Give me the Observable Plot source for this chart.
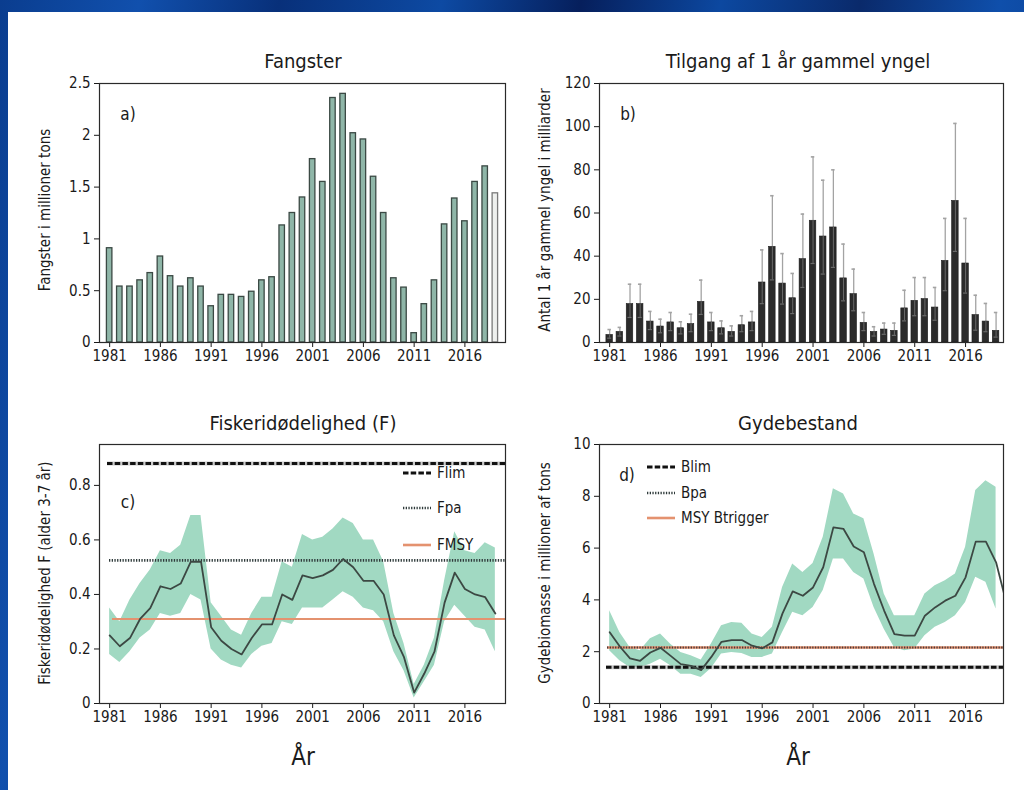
<!DOCTYPE html>
<html>
<head>
<meta charset="utf-8">
<script src="https://cdn.jsdelivr.net/npm/d3@7"></script>
<script src="https://cdn.jsdelivr.net/npm/@observablehq/plot@0.6"></script>
<style>
  html, body { margin:0; padding:0; }
  body {
    width:1024px; height:790px; overflow:hidden;
    background: linear-gradient(100deg, #0a3d8f 0%, #1150ad 12%, #08307a 24%, #0d4aa3 38%, #061f5c 50%, #0c48a0 62%, #0a2a6b 74%, #0f4fab 86%, #0a3a8a 100%);
    font-family: "Liberation Sans Narrow", "DejaVu Sans Condensed", "Roboto", sans-serif;
  }
  #root { position:absolute; left:8px; top:12px; right:0; bottom:0; background:#fff; }
  #canvas { position:absolute; left:0; top:0; width:1024px; height:790px; }
  .title { position:absolute; transform:translate(-50%,-50%); font-size:20px; color:#1a1a1a; white-space:nowrap; }
  .xlab { position:absolute; transform:translate(-50%,-50%); font-size:24px; color:#1a1a1a; }
  .ylab { position:absolute; transform:translate(-50%,-50%) rotate(-90deg); font-size:15px; color:#1a1a1a; white-space:nowrap; }
  .tag { position:absolute; transform:translate(-50%,-50%); font-size:17px; color:#1a1a1a; }
  .leg { position:absolute; display:flex; align-items:center; font-size:15px; color:#1a1a1a; white-space:nowrap; transform:translateY(-50%); }
  .leg svg { margin-right:6px; }
</style>
</head>
<body>
<div id="root"></div>
<div id="canvas"></div>
<script>
// ---------- data ----------
const years = d3.range(1981, 2020);
const xTickYears = [1981, 1986, 1991, 1996, 2001, 2006, 2011, 2016];

// a) Fangster (million tons); last year provisional
const catchValues = [0.91,0.54,0.54,0.60,0.67,0.83,0.64,0.54,0.62,0.54,
                     0.35,0.46,0.46,0.44,0.49,0.60,0.63,1.13,1.25,1.40,
                     1.77,1.55,2.36,2.40,2.02,1.96,1.60,1.25,0.62,0.53,
                     0.09,0.37,0.60,1.14,1.39,1.17,1.55,1.70,1.44];
const provisionalCatchYear = 2019;

// b) Recruitment (billions) with interval
const recruit = [3.5,4.9,17.8,17.8,9.7,7.4,9.3,6.6,8.5,18.8,
                 9.3,6.6,4.9,8.0,9.3,27.8,44.3,27.3,20.5,38.6,
                 56.4,49.1,53.3,29.7,22.4,9.1,4.9,6.0,5.4,15.8,
                 19.3,20.1,16.2,37.8,65.6,36.6,12.7,9.7,5.4];
const recruitHigh = [6,7,27,27,14.4,10.8,13.9,9.6,13.1,28.9,
                     13.9,10,7.7,12.4,14.4,42.9,68,41.2,32,59.5,
                     86,75.2,80,45.6,34,13.9,7.3,9,9,24.2,
                     30.1,30.1,25.5,57.5,101.5,57.5,21.9,18.1,13.9];
const recruitLow = [2,3,11.6,11.6,6,4.5,5.5,4,5,13,
                    5.5,4,3,5,5.5,18,29,17.8,13.4,25.5,
                    36.6,31.7,34.8,19.3,14.7,5.5,3,3.8,3.3,10,
                    12.4,12.4,10.3,24,42.2,22.9,5.7,5,2.5];

// c) Fishing mortality F (ages 3-7)
const fValues = [0.25,0.21,0.24,0.31,0.35,0.43,0.42,0.44,0.52,0.52,
                 0.28,0.23,0.20,0.18,0.24,0.29,0.29,0.40,0.38,0.47,
                 0.46,0.47,0.49,0.53,0.50,0.45,0.45,0.40,0.25,0.17,
                 0.04,0.11,0.19,0.37,0.48,0.42,0.40,0.39,0.33];
const fHigh = [0.35,0.30,0.38,0.44,0.49,0.56,0.55,0.58,0.69,0.69,
               0.37,0.32,0.27,0.25,0.33,0.39,0.39,0.52,0.50,0.62,
               0.60,0.61,0.64,0.68,0.66,0.60,0.60,0.52,0.33,0.22,
               0.07,0.14,0.24,0.45,0.63,0.56,0.55,0.59,0.57];
const fLow = [0.18,0.15,0.19,0.24,0.27,0.33,0.32,0.33,0.40,0.38,
              0.20,0.16,0.14,0.13,0.18,0.21,0.22,0.30,0.29,0.35,
              0.35,0.35,0.38,0.41,0.39,0.35,0.34,0.30,0.19,0.12,
              0.02,0.08,0.14,0.30,0.36,0.32,0.28,0.27,0.19];
const Flim = 0.88, Fpa = 0.525, FMSY = 0.31;

// d) Spawning stock biomass (million tons)
const ssbYears = d3.range(1981, 2021);
const ssb = [2.75,2.2,1.74,1.65,1.97,2.15,1.84,1.52,1.45,1.29,
             1.8,2.38,2.45,2.45,2.23,2.13,2.36,3.48,4.33,4.16,
             4.48,5.26,6.8,6.74,6.06,5.84,4.61,3.58,2.68,2.62,
             2.62,3.39,3.71,3.97,4.16,4.87,6.25,6.25,5.45,3.9];
const ssbHigh = [3.58,2.74,2.16,2.04,2.5,2.68,2.29,1.97,1.84,1.68,
                 2.3,3.0,3.13,3.1,2.68,2.55,2.94,4.48,5.39,5.06,
                 5.41,6.42,8.29,8.09,7.32,7.13,5.77,4.23,3.39,3.39,
                 3.39,4.23,4.55,4.74,5.0,6.03,8.22,8.6,8.35];
const ssbLow = [2.04,1.65,1.39,1.39,1.52,1.71,1.46,1.13,1.13,1.0,
                1.35,1.91,1.97,1.93,1.78,1.78,1.91,2.74,3.52,3.39,
                3.71,4.36,5.58,5.58,5.06,4.81,3.71,2.87,2.16,2.04,
                2.1,2.62,2.94,3.13,3.39,3.9,4.87,4.68,3.65];
const Blim = 1.4, Bpa = 2.16, MSYBtrigger = 2.16;

// ---------- tables ----------
const catchData = years.map((year, i) => ({year, value: catchValues[i]}));
const recruitData = years.map((year, i) => ({year, value: recruit[i], lo: recruitLow[i], hi: recruitHigh[i]}));
const fData = years.map((year, i) => ({year, value: fValues[i], lo: fLow[i], hi: fHigh[i]}));
const ssbBand = years.map((year, i) => ({year, lo: ssbLow[i], hi: ssbHigh[i]}));
const ssbLine = ssbYears.map((year, i) => ({year, value: ssb[i]}));

// ---------- styles ----------
const FONT = '"Liberation Sans Narrow", "DejaVu Sans Condensed", Roboto, sans-serif';
const baseStyle = {fontFamily: FONT, fontSize: "15px", color: "#1a1a1a", background: "transparent", overflow: "visible"};
const bandFill = "#a1d9c2";
const lineCol = "#3c4843";
const orange = "#e4926f";
const canvas = document.getElementById("canvas");

function place(node, left, top) {
  node.style.position = "absolute";
  node.style.left = left + "px";
  node.style.top = top + "px";
  canvas.appendChild(node);
}
function xAxisOpts(domain) {
  return {domain, ticks: xTickYears, tickFormat: d => String(d), tickSize: 5, tickPadding: 3, label: null};
}
const numFmt = d => String(+d.toFixed(2));

// a) Fangster
place(Plot.plot({
  width: 500, height: 300, marginLeft: 79, marginRight: 15, marginTop: 11, marginBottom: 30,
  style: baseStyle,
  x: xAxisOpts([1980, 2020]),
  y: {domain: [0, 2.5], ticks: [0, 0.5, 1, 1.5, 2, 2.5], tickFormat: numFmt, tickSize: 5, tickPadding: 4, label: null},
  marks: [
    Plot.rectY(catchData, {
      x1: d => d.year - 0.27, x2: d => d.year + 0.27, y: "value",
      fill: d => d.year === provisionalCatchYear ? "#eef0ee" : "#8fb6a8",
      stroke: d => d.year === provisionalCatchYear ? "#7a7a7a" : "#3b4944",
      strokeWidth: 1.3
    }),
    Plot.frame({stroke: "#2a2a2a", strokeWidth: 1.2})
  ]
}), 20, 72);

// b) Recruitment
place(Plot.plot({
  width: 510, height: 300, marginLeft: 89, marginRight: 17, marginTop: 11, marginBottom: 30,
  style: baseStyle,
  x: xAxisOpts([1980, 2019.73]),
  y: {domain: [0, 120], ticks: [0, 20, 40, 60, 80, 100, 120], tickSize: 5, tickPadding: 4, label: null},
  marks: [
    Plot.ruleX(recruitData, {x: "year", y1: "value", y2: "hi", stroke: "#a3a3a3", strokeWidth: 1.3}),
    Plot.ruleY(recruitData, {y: "hi", x1: d => d.year - 0.17, x2: d => d.year + 0.17, stroke: "#a3a3a3", strokeWidth: 1.6}),
    Plot.rectY(recruitData, {x1: d => d.year - 0.32, x2: d => d.year + 0.32, y: "value", fill: "#2b2b2b", stroke: "#1c1c1c", strokeWidth: 0.6}),
    Plot.ruleX(recruitData, {x: "year", y1: "lo", y2: "value", stroke: "#6a6a6a", strokeWidth: 1}),
    Plot.ruleY(recruitData, {y: "lo", x1: d => d.year - 0.2, x2: d => d.year + 0.2, stroke: "#6a6a6a", strokeWidth: 1.2}),
    Plot.frame({stroke: "#2a2a2a", strokeWidth: 1.2})
  ]
}), 510, 72);

// c) Fishing mortality
place(Plot.plot({
  width: 500, height: 300, marginLeft: 79, marginRight: 15, marginTop: 10, marginBottom: 31,
  style: baseStyle,
  x: xAxisOpts([1980, 2020]),
  y: {domain: [0, 0.95], ticks: [0, 0.2, 0.4, 0.6, 0.8], tickFormat: numFmt, tickSize: 5, tickPadding: 4, label: null},
  marks: [
    Plot.areaY(fData, {x: "year", y1: "lo", y2: "hi", fill: bandFill, fillOpacity: 1}),
    Plot.ruleY([FMSY], {stroke: orange, strokeWidth: 2.2, insetLeft: 13}),
    Plot.ruleY([Fpa], {stroke: "#2f3b3b", strokeWidth: 2.6, strokeDasharray: "1.3,1.4", insetLeft: 10}),
    Plot.ruleY([Flim], {stroke: "#9a9a9a", strokeWidth: 4, insetLeft: 8, strokeOpacity: 0.5}),
    Plot.ruleY([Flim], {stroke: "#111", strokeWidth: 3, strokeDasharray: "5.5,2.2", insetLeft: 8}),
    Plot.lineY(fData, {x: "year", y: "value", stroke: lineCol, strokeWidth: 1.8}),
    Plot.frame({stroke: "#2a2a2a", strokeWidth: 1.2})
  ]
}), 20, 434);

// d) SSB
place(Plot.plot({
  width: 510, height: 300, marginLeft: 89, marginRight: 17, marginTop: 10, marginBottom: 31,
  style: baseStyle,
  x: xAxisOpts([1980, 2019.73]),
  y: {domain: [0, 10], ticks: [0, 2, 4, 6, 8, 10], tickSize: 5, tickPadding: 4, label: null},
  marks: [
    Plot.areaY(ssbBand, {x: "year", y1: "lo", y2: "hi", fill: bandFill}),
    Plot.ruleY([MSYBtrigger], {stroke: orange, strokeWidth: 2.6, insetLeft: 8}),
    Plot.ruleY([Bpa], {stroke: "#4a3a3a", strokeWidth: 2, strokeDasharray: "1.3,1.4", insetLeft: 8}),
    Plot.ruleY([Blim], {stroke: "#9a9a9a", strokeWidth: 4, insetLeft: 7, strokeOpacity: 0.5}),
    Plot.ruleY([Blim], {stroke: "#111", strokeWidth: 3, strokeDasharray: "5.5,2.2", insetLeft: 7}),
    Plot.lineY(ssbLine, {x: "year", y: "value", stroke: lineCol, strokeWidth: 1.8, clip: true}),
    Plot.frame({stroke: "#2a2a2a", strokeWidth: 1.2})
  ]
}), 510, 434);

// ---------- text ----------
function addDiv(cls, text, x, y) {
  const d = document.createElement("div");
  d.className = cls; d.textContent = text;
  d.style.left = x + "px"; d.style.top = y + "px";
  canvas.appendChild(d);
  return d;
}
addDiv("title", "Fangster", 303, 61);
addDiv("title", "Tilgang af 1 år gammel yngel", 798, 61);
addDiv("title", "Fiskeridødelighed (F)", 303, 423);
addDiv("title", "Gydebestand", 798, 423);
addDiv("xlab", "År", 303, 757);
addDiv("xlab", "År", 798, 757);
addDiv("ylab", "Fangster i millioner tons", 45, 210);
addDiv("ylab", "Antal 1 år gammel yngel i milliarder", 545, 210);
addDiv("ylab", "Fiskeridødelighed F (alder 3-7 år)", 45, 573);
addDiv("ylab", "Gydebiomasse i millioner af tons", 545, 573);
addDiv("tag", "a)", 128, 114);
addDiv("tag", "b)", 628, 114);
addDiv("tag", "c)", 128, 502);
addDiv("tag", "d)", 627, 475);

// legends
function legendItem(x, y, label, kind) {
  const d = document.createElement("div");
  d.className = "leg";
  d.style.left = x + "px"; d.style.top = y + "px";
  let line;
  if (kind === "lim") line = '<line x1="0" y1="5" x2="28" y2="5" stroke="#111" stroke-width="3" stroke-dasharray="5.5,2.2"/>';
  else if (kind === "pa") line = '<line x1="0" y1="5" x2="28" y2="5" stroke="#2f3b3b" stroke-width="2.4" stroke-dasharray="1.3,1.4"/>';
  else line = '<line x1="0" y1="5" x2="28" y2="5" stroke="' + orange + '" stroke-width="2.6"/>';
  d.innerHTML = '<svg width="28" height="10">' + line + '</svg><span>' + label + '</span>';
  canvas.appendChild(d);
}
legendItem(403, 473, "Flim", "lim");
legendItem(403, 508, "Fpa", "pa");
legendItem(403, 545, "FMSY", "msy");
legendItem(647, 467, "Blim", "lim");
legendItem(647, 493, "Bpa", "pa");
legendItem(647, 518, "MSY Btrigger", "msy");
</script>
</body>
</html>
